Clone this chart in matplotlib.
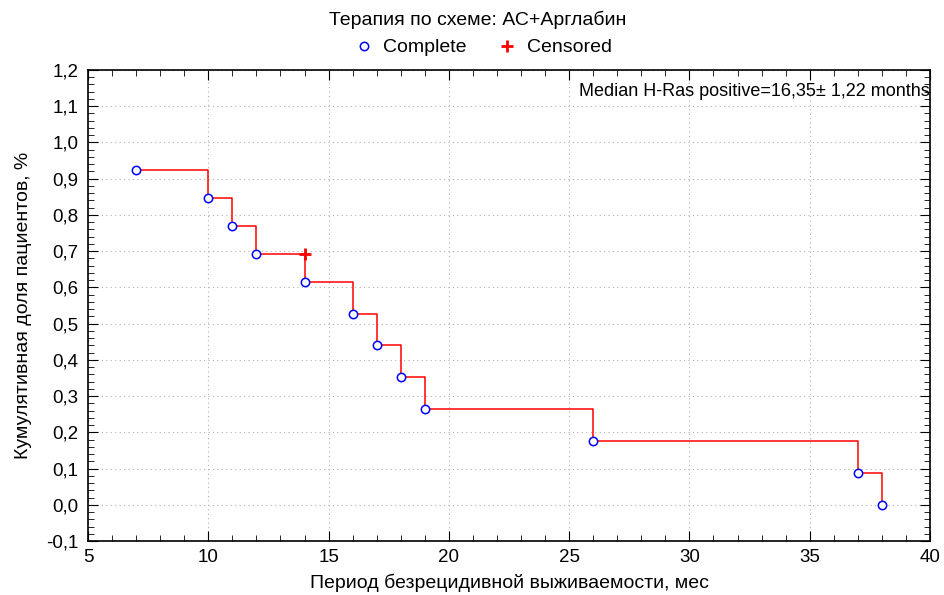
import matplotlib
matplotlib.use("Agg")
import matplotlib.pyplot as plt
from matplotlib.ticker import MultipleLocator, FuncFormatter

plt.rcParams['font.family'] = ['Liberation Sans', 'DejaVu Sans']

# event times (months) and cumulative proportion surviving
times = [7, 10, 11, 12, 14, 16, 17, 18, 19, 26, 37, 38]
surv = [0.923, 0.846, 0.769, 0.692, 0.615, 0.527, 0.440, 0.352, 0.264, 0.176, 0.088, 0.0]
cens_t = [14]
cens_s = [0.692]

title = "Терапия по схеме: АС+Арглабин"
note = "Median H-Ras positive=16,35± 1,22 months"

fig = plt.figure(figsize=(9.45, 5.95), dpi=100)
ax = fig.add_axes([88/945, 54/595, 842/945, 471/595])

ax.step(times, surv, where='post', color='red', lw=1.1, zorder=2)
ax.plot(times, surv, 'o', ms=6, mfc='white', mec='blue', mew=1.1,
        ls='none', label='Complete', zorder=3)
ax.plot(cens_t, cens_s, '+', ms=8, mec='red', mew=2, color='red',
        ls='none', label='Censored', zorder=3)

ax.set_xlim(5, 40)
ax.set_ylim(-0.1, 1.2)
ax.xaxis.set_major_locator(MultipleLocator(5))
ax.xaxis.set_minor_locator(MultipleLocator(1))
ax.yaxis.set_major_locator(MultipleLocator(0.1))
ax.yaxis.set_minor_locator(MultipleLocator(0.02))
ax.yaxis.set_major_formatter(FuncFormatter(lambda v, p: f"{v:.1f}".replace('.', ',').replace('-0,0', '0,0')))
ax.tick_params(which='both', direction='in', top=True, right=True, labelsize=13.5, color='black')
ax.tick_params(which='major', length=7)
ax.tick_params(which='minor', length=4)
ax.tick_params(axis='y', which='major', pad=7)
ax.tick_params(axis='x', which='major', pad=6)
ax.grid(True, which='major', ls=(0, (1, 3)), color='#b0b0b0', lw=0.8)
for s in ax.spines.values():
    s.set_linewidth(1.2)

ax.set_xlabel("Период безрецидивной выживаемости, мес", fontsize=14, labelpad=5)
ax.set_ylabel("Кумулятивная доля пациентов, %", fontsize=14, labelpad=10)

ax.text(1.0, 0.955, note, transform=ax.transAxes, ha='right', va='center', fontsize=13)

fig.text(0.505, 0.966, title, ha='center', va='center', fontsize=14)
fig.legend(loc='center', bbox_to_anchor=(0.51, 0.92), ncol=2, frameon=False,
           fontsize=14, handletextpad=0.4, columnspacing=1.5, handlelength=1.2)

fig.savefig("out.png", dpi=100)
